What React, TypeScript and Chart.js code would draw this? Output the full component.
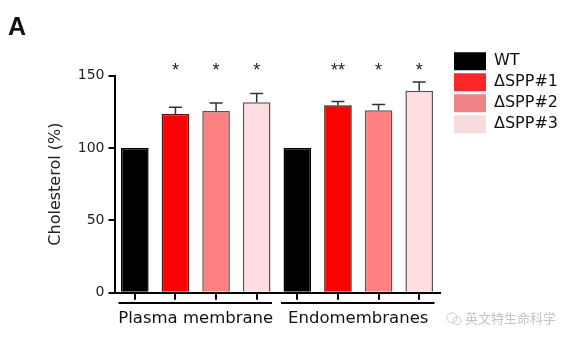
import { useEffect, useRef } from 'react';
import { Chart, registerables } from 'chart.js';

Chart.register(...registerables);

// ---- data ----
const CATEGORIES = ['WT', 'ΔSPP#1', 'ΔSPP#2', 'ΔSPP#3', 'WT', 'ΔSPP#1', 'ΔSPP#2', 'ΔSPP#3'];
const GROUPS = ['Plasma membrane', 'Endomembranes'];
const VALUES = [100, 123.5, 125.5, 131.5, 100, 129.5, 126, 139.5];
const ERRORS = [0, 4.5, 5.5, 6, 0, 2.5, 4, 6];
const SIGNIF = ['', '*', '*', '*', '', '**', '*', '*'];
const LEGEND_LABELS = ['WT', 'ΔSPP#1', 'ΔSPP#2', 'ΔSPP#3'];
const Y_MIN = 0;
const Y_MAX = 150;
const Y_STEP = 50;
const Y_TITLE = 'Cholesterol (%)';
const PANEL = 'A';
const WATERMARK = '英文特生命科学';

// ---- styles ----
const BAR_COLORS = ['#000000', '#ff0000', '#ff8080', '#ffdde0', '#000000', '#ff0000', '#ff8080', '#ffdde0'];
const BAR_BORDERS = ['#000000', '#5a1010', '#555555', '#555555', '#000000', '#5a1010', '#555555', '#555555'];
const LEGEND_COLORS = ['#000000', '#f82828', '#ee8487', '#f6dcdc'];

const annotPlugin = {
  id: 'annot',
  afterDatasetsDraw(chart: any) {
    const ctx = chart.ctx;
    const meta = chart.getDatasetMeta(0);
    const y = chart.scales.y;
    ctx.save();
    // error bars (upper only)
    ctx.strokeStyle = '#333';
    ctx.lineWidth = 1.5;
    meta.data.forEach((bar: any, i: number) => {
      const e = ERRORS[i];
      if (!e) return;
      const yTop = y.getPixelForValue(VALUES[i] + e);
      const yBar = y.getPixelForValue(VALUES[i]);
      ctx.beginPath();
      ctx.moveTo(bar.x, yBar);
      ctx.lineTo(bar.x, yTop);
      ctx.moveTo(bar.x - 6.5, yTop);
      ctx.lineTo(bar.x + 6.5, yTop);
      ctx.stroke();
    });
    // significance stars
    ctx.fillStyle = '#222';
    ctx.font = '18px "Liberation Sans"';
    ctx.textAlign = 'center';
    ctx.textBaseline = 'alphabetic';
    const base = y.getPixelForValue(Y_MAX) + 0.5;
    meta.data.forEach((bar: any, i: number) => {
      if (SIGNIF[i]) ctx.fillText(SIGNIF[i], bar.x, base);
    });
    ctx.restore();
  },
  afterDraw(chart: any) {
    const ctx = chart.ctx;
    const x = chart.scales.x;
    const x2 = chart.scales.x2;
    const slot = (x.right - x.left) / CATEGORIES.length;
    const per = CATEGORIES.length / GROUPS.length;
    ctx.save();
    ctx.strokeStyle = '#000';
    ctx.lineWidth = 2;
    const ly = x2.top + 3.25;
    GROUPS.forEach((_, g) => {
      const x0 = x.getPixelForValue(g * per) - slot / 2 + 4;
      const x1 = x.getPixelForValue(g * per + per - 1) + slot / 2 - 5;
      ctx.beginPath();
      ctx.moveTo(x0, ly);
      ctx.lineTo(x1, ly);
      ctx.stroke();
    });
    // watermark
    const wy = x2.top + 18;
    const wx = chart.width - 116;
    ctx.strokeStyle = '#cfcfcf';
    ctx.lineWidth = 1;
    ctx.beginPath();
    ctx.arc(wx, wy, 5, 0, Math.PI * 2);
    ctx.stroke();
    ctx.beginPath();
    ctx.arc(wx + 5, wy + 3, 4, 0, Math.PI * 2);
    ctx.stroke();
    ctx.fillStyle = '#c4c4c4';
    ctx.font = '13px "Noto Sans CJK SC"';
    ctx.textAlign = 'left';
    ctx.textBaseline = 'middle';
    ctx.fillText(WATERMARK, wx + 13, wy);
    ctx.restore();
  },
};

export default function App() {
  const ref = useRef<HTMLCanvasElement>(null);
  useEffect(() => {
    if (!ref.current) return;
    const chart = new Chart(ref.current, {
      type: 'bar',
      data: {
        labels: CATEGORIES,
        datasets: [
          {
            data: VALUES,
            backgroundColor: BAR_COLORS,
            borderColor: BAR_BORDERS,
            borderWidth: 1.5,
            barPercentage: 0.68,
            categoryPercentage: 1,
          },
        ],
      },
      options: {
        animation: false,
        responsive: false,
        layout: { padding: 0 },
        plugins: {
          title: {
            display: true,
            text: PANEL,
            align: 'start',
            color: '#111',
            font: { family: 'Liberation Sans', size: 25, weight: 'bold', lineHeight: 1.2 },
            padding: { top: 5.35, bottom: 32.15 },
          },
          legend: {
            position: 'right',
            align: 'start',
            fullSize: true,
            maxWidth: 300,
            onClick: () => {},
            title: { display: true, text: ' ', font: { size: 10, lineHeight: 1.2 }, padding: { top: 29.3, bottom: 0 } },
            labels: {
              boxWidth: 32,
              boxHeight: 18,
              padding: 3,
              color: '#111',
              font: { family: 'DejaVu Sans', size: 16 },
              generateLabels: () =>
                LEGEND_LABELS.map((t, i) => ({
                  text: t,
                  fillStyle: LEGEND_COLORS[i],
                  strokeStyle: LEGEND_COLORS[i],
                  fontColor: '#111',
                  lineWidth: 0,
                  hidden: false,
                  datasetIndex: 0,
                  index: i,
                })),
            },
          },
          tooltip: { enabled: false },
        },
        scales: {
          x: {
            type: 'category',
            position: 'bottom',
            weight: 0,
            offset: true,
            grid: { display: true, drawOnChartArea: false, drawTicks: true, tickLength: 7, color: '#000', lineWidth: 2, offset: false },
            border: { display: true, color: '#000', width: 2 },
            ticks: { display: false },
          },
          x2: {
            type: 'category',
            labels: GROUPS,
            position: 'bottom',
            weight: 1,
            offset: true,
            grid: { display: false, drawTicks: false },
            border: { display: false },
            ticks: { color: '#111', font: { family: 'DejaVu Sans', size: 16.5 }, padding: 8.85, maxRotation: 0, autoSkip: false },
            afterFit: (s: any) => {
              s.height = 33.25;
            },
          },
          y: {
            min: Y_MIN,
            max: Y_MAX,
            ticks: { stepSize: Y_STEP, color: '#222', padding: 4, font: { family: 'DejaVu Sans', size: 14 } },
            grid: { display: true, drawOnChartArea: false, drawTicks: true, tickLength: 6, color: '#000', lineWidth: 2 },
            border: { display: true, color: '#000', width: 2 },
            title: {
              display: true,
              text: Y_TITLE,
              color: '#222',
              font: { family: 'DejaVu Sans', size: 16, lineHeight: 1.2 },
              padding: { top: 37.9, bottom: 9 },
            },
            afterFit: (s: any) => {
              s.width = 106.5;
            },
          },
          pad: {
            type: 'linear',
            position: 'right',
            display: true,
            grid: { display: false, drawTicks: false },
            border: { display: false },
            ticks: { display: false },
            afterFit: (s: any) => {
              s.width = 11.5;
            },
          },
        },
      } as any,
      plugins: [annotPlugin],
    });
    return () => chart.destroy();
  }, []);
  return <canvas ref={ref} width={560} height={325} style={{ display: 'block' }} />;
}
